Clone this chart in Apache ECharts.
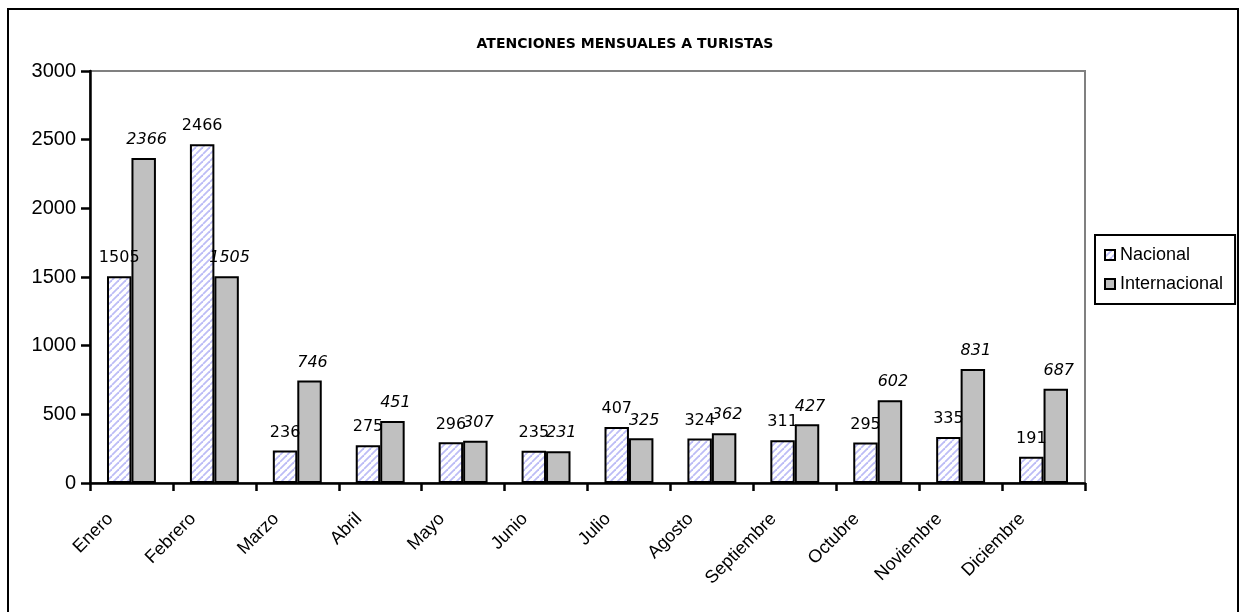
<!DOCTYPE html>
<html><head><meta charset="utf-8">
<script src="https://cdn.jsdelivr.net/npm/echarts@6/dist/echarts.min.js"></script>
<style>html,body{margin:0;padding:0;background:#fff}#c{width:1239px;height:612px}</style>
</head><body><div id="c"></div>
<script>
var categories = ['Enero','Febrero','Marzo','Abril','Mayo','Junio','Julio','Agosto','Septiembre','Octubre','Noviembre','Diciembre'];
var nacional = [1505, 2466, 236, 275, 296, 235, 407, 324, 311, 295, 335, 191];
var internacional = [2366, 1505, 746, 451, 307, 231, 325, 362, 427, 602, 831, 687];
var yTicks = {min: 0, max: 3000, interval: 500};

var pc = document.createElement('canvas');
pc.width = 7; pc.height = 7;
var g = pc.getContext('2d');
g.fillStyle = '#ffffff'; g.fillRect(0,0,7,7);
g.strokeStyle = '#bcbcf6'; g.lineWidth = 1.8;
for (var k = -7; k <= 14; k += 7) { g.beginPath(); g.moveTo(k, 7); g.lineTo(k + 7, 0); g.stroke(); }
var hatch = {image: pc, repeat: 'repeat'};

var chart = echarts.init(document.getElementById('c'), null, {renderer: 'canvas'});
chart.setOption({
  animation: false,
  title: {text: 'ATENCIONES MENSUALES A TURISTAS', left: 620, textAlign: 'center', top: 32,
    textStyle: {fontFamily: 'DejaVu Sans', fontSize: 14, fontWeight: 600, color: '#000'}},
  graphic: [{type: 'rect', shape: {x: 8, y: 9, width: 1230, height: 610}, style: {fill: 'none', stroke: '#000', lineWidth: 2}, z: 100}],
  legend: {orient: 'vertical', left: 1095, top: 235, borderColor: '#000', borderWidth: 2,
    padding: [11, 12, 11, 9], itemWidth: 10, itemHeight: 10, itemGap: 11,
    data: [{name: 'Nacional', icon: 'rect'}, {name: 'Internacional', icon: 'rect'}],
    textStyle: {fontFamily: 'Liberation Sans', fontSize: 18, color: '#000', padding: [0, 0, 0, 0]}},
  grid: {left: 90, top: 71, width: 995, height: 412, show: true, borderColor: '#808080', borderWidth: 2},
  xAxis: {type: 'category', data: categories,
    axisLine: {lineStyle: {color: '#000', width: 2.5}},
    axisTick: {show: true, length: 8, inside: false, lineStyle: {color: '#000', width: 2.5}},
    axisLabel: {rotate: 45, margin: 12, padding: [0, 30, 0, 0], fontFamily: 'Liberation Sans', fontSize: 18, color: '#000'},
    splitLine: {show: false}},
  yAxis: {type: 'value', min: yTicks.min, max: yTicks.max, interval: yTicks.interval,
    axisLine: {show: true, lineStyle: {color: '#000', width: 2.5}},
    axisTick: {show: true, length: 9, lineStyle: {color: '#000', width: 2.5}},
    axisLabel: {margin: 14, formatter: function (v) { return String(v); }, fontFamily: 'Liberation Sans', fontSize: 20, color: '#000'},
    splitLine: {show: false}},
  series: [
    {name: 'Nacional', type: 'bar', data: nacional, barGap: '0%', barCategoryGap: '41%',
      itemStyle: {color: hatch, borderColor: '#000', borderWidth: 2},
      label: {show: true, position: 'top', distance: 10, fontFamily: 'DejaVu Sans', fontSize: 16, color: '#000'}},
    {name: 'Internacional', type: 'bar', data: internacional,
      itemStyle: {color: '#c0c0c0', borderColor: '#000', borderWidth: 2},
      label: {show: true, position: 'top', distance: 10, offset: [3, 0], fontFamily: 'DejaVu Sans', fontStyle: 'italic', fontSize: 16, color: '#000'}}
  ]
});
</script></body></html>
